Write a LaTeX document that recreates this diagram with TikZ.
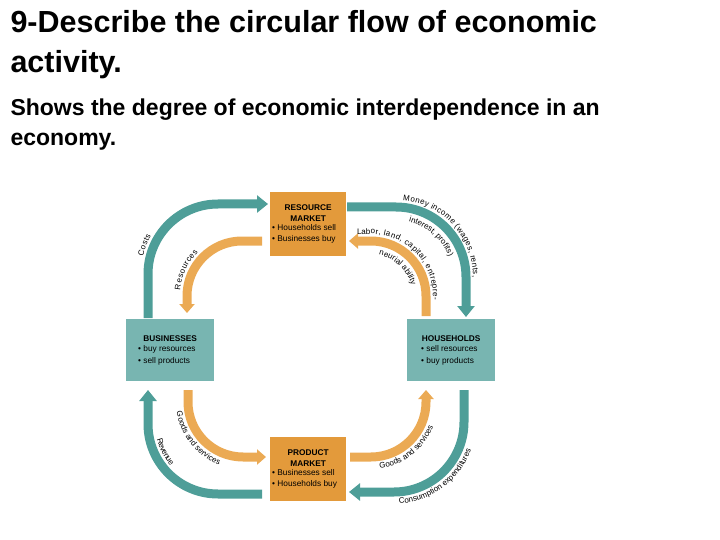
\documentclass[tikz,border=0pt]{standalone}
\usepackage{fontspec}
\setmainfont{Liberation Sans}
\usetikzlibrary{arrows.meta,decorations.text}
\definecolor{teal1}{HTML}{2E8C84}
\definecolor{teal2}{HTML}{7DB9B5}
\definecolor{org1}{HTML}{E9A143}
\definecolor{org2}{HTML}{F2CC98}
\definecolor{boxorg}{HTML}{E39A3B}
\definecolor{boxteal}{HTML}{78B5B1}
\begin{document}
\begin{tikzpicture}[x=1pt,y=-1pt,
  mkt/.style={fill=boxorg,minimum width=76pt,minimum height=64pt,inner sep=2pt,font=\fontsize{8.3}{11}\selectfont,align=left,anchor=north west},
  sect/.style={fill=boxteal,minimum width=88pt,minimum height=62pt,inner sep=2pt,font=\fontsize{8.3}{11.5}\selectfont,align=left,anchor=north west},
  tflow/.style={draw=teal2!40!teal1,line width=9pt,rounded corners=70pt,-{Triangle[length=11pt,width=17pt]}},
  oflow/.style={draw=org1!80!org2,line width=9pt,rounded corners=55pt,-{Triangle[length=9pt,width=15pt]}},
  tl/.style={rounded corners=70pt},
  ol/.style={rounded corners=55pt},
  lab/.style args={#1/#2/#3}{decorate,decoration={text along path,text={|\fontsize{8}{8}\selectfont|#1},text align={left indent=#2},raise=#3}}]
\useasboundingbox (0,0) rectangle (720,540);
\node[anchor=base west,font=\bfseries\fontsize{30.5}{30}\selectfont] (t1) at (7,33) {9-Describe the circular flow of economic};
\node[anchor=base west,font=\bfseries\fontsize{30.5}{30}\selectfont] (t2) at (7,73) {activity.};
\node[anchor=base west,font=\bfseries\fontsize{23}{23}\selectfont] (s1) at (7,116) {Shows the degree of economic interdependence in an};
\node[anchor=base west,font=\bfseries\fontsize{23}{23}\selectfont] (s2) at (7,146) {economy.};

\node[mkt] (rm) at (270,192) {\parbox{72pt}{\centering\bfseries RESOURCE\\MARKET}\\[2pt]• Households sell\\• Businesses buy};
\node[mkt] (pm) at (270,437) {\parbox{72pt}{\centering\bfseries PRODUCT\\MARKET}\\[2pt]• Businesses sell\\• Households buy};
\node[sect] (bu) at (126,319) {\parbox{84pt}{\centering\bfseries BUSINESSES}\\\hspace*{10pt}• buy resources\\\hspace*{10pt}• sell products};
\node[sect] (ho) at (407,319) {\parbox{84pt}{\centering\bfseries HOUSEHOLDS}\\\hspace*{12pt}• sell resources\\\hspace*{12pt}• buy products};

\coordinate (a1) at (148,318); \coordinate (a2) at (148,204); \coordinate (a3) at (268,204);
\draw[tflow] (a1) -- (a2) -- (a3);
\coordinate (b1) at (262,241); \coordinate (b2) at (187,241); \coordinate (b3) at (187,313);
\draw[oflow] (b1) -- (b2) -- (b3);
\coordinate (c1) at (347,207); \coordinate (c2) at (466,207); \coordinate (c3) at (466,317);
\draw[tflow] (c1) -- (c2) -- (c3);
\coordinate (d1) at (426,316); \coordinate (d2) at (426,241); \coordinate (d3) at (349,241);
\draw[oflow] (d1) -- (d2) -- (d3);
\coordinate (e1) at (188,390); \coordinate (e2) at (188,457); \coordinate (e3) at (266,457);
\draw[oflow] (e1) -- (e2) -- (e3);
\coordinate (f1) at (262,494); \coordinate (f2) at (148,494); \coordinate (f3) at (148,390);
\draw[tflow] (f1) -- (f2) -- (f3);
\coordinate (g1) at (350,457); \coordinate (g2) at (426,457); \coordinate (g3) at (426,390);
\draw[oflow] (g1) -- (g2) -- (g3);
\coordinate (h1) at (464,390); \coordinate (h2) at (464,492); \coordinate (h3) at (349,492);
\draw[tflow] (h1) -- (h2) -- (h3);

\path[tl,lab={Costs/60pt/7pt}] (a1) -- (a2) -- (a3);
\path[ol,lab={Resources/22pt/7pt}] (b3) -- (b2) -- (b1);
\path[tl,lab={Money income (wages, rents,/55pt/7pt}] (c1) -- (c2) -- (c3);
\coordinate (c1i) at (347,220); \coordinate (c2i) at (453,220); \coordinate (c3i) at (453,317);
\path[rounded corners=58pt,lab={interest, profits)/62pt/0pt}] (c1i) -- (c2i) -- (c3i);
\path[ol,lab={Labor, land, capital, entrepre-/8pt/7pt}] (d3) -- (d2) -- (d1);
\coordinate (d3i) at (349,254); \coordinate (d2i) at (413,254); \coordinate (d1i) at (413,316);
\path[rounded corners=43pt,lab={neurial ability/30pt/0pt}] (d3i) -- (d2i) -- (d1i);
\coordinate (e1o) at (176,390); \coordinate (e2o) at (176,469); \coordinate (e3o) at (266,469);
\path[rounded corners=67pt,lab={Goods and services/22pt/0pt}] (e1o) -- (e2o) -- (e3o);
\path[tl,lab={Revenue/52pt/7pt}] (f3) -- (f2) -- (f1);
\coordinate (g1o) at (350,469); \coordinate (g2o) at (438,469); \coordinate (g3o) at (438,390);
\path[rounded corners=67pt,lab={Goods and services/30pt/0pt}] (g1o) -- (g2o) -- (g3o);
\coordinate (h3o) at (349,504); \coordinate (h2o) at (476,504); \coordinate (h1o) at (476,390);
\path[rounded corners=82pt,lab={Consumption expenditures/50pt/0pt}] (h3o) -- (h2o) -- (h1o);
\end{tikzpicture}
\end{document}
